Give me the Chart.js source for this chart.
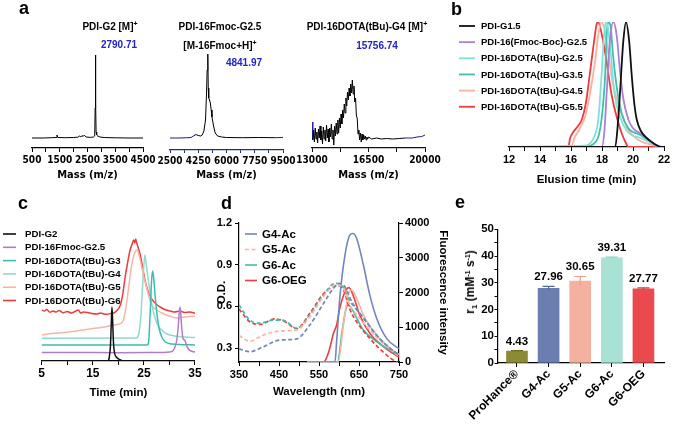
<!DOCTYPE html>
<html><head><meta charset="utf-8">
<script src="https://cdn.jsdelivr.net/npm/chart.js@4.4.1/dist/chart.umd.min.js"></script>
<style>
html,body{margin:0;padding:0;background:#fff;}
#wrap{position:relative;width:673px;height:424px;overflow:hidden;background:#fff;font-family:'Liberation Sans',Arial,sans-serif;}
canvas{position:absolute;left:0;top:0;}
.t{position:absolute;font-weight:bold;white-space:nowrap;color:#000;}
.lt{font-size:18px;line-height:18px;}
.ttl{font-size:10px;line-height:12px;text-align:center;width:200px;}
.blue{color:#2222cc;}
sup{font-size:7px;vertical-align:4px;line-height:0;}
sub{font-size:8px;vertical-align:-3px;line-height:0;}
</style></head><body>
<div id="wrap">
<canvas id="ca1" width="673" height="424"></canvas>
<canvas id="ca2" width="673" height="424"></canvas>
<canvas id="ca3" width="673" height="424"></canvas>
<canvas id="cb" width="673" height="424"></canvas>
<canvas id="cc" width="673" height="424"></canvas>
<canvas id="cd" width="673" height="424"></canvas>
<canvas id="ce" width="673" height="424"></canvas>
<div class="t lt" style="left:19px;top:-1px">a</div>
<div class="t lt" style="left:451px;top:0px">b</div>
<div class="t lt" style="left:18px;top:194px">c</div>
<div class="t lt" style="left:221px;top:194px">d</div>
<div class="t lt" style="left:455px;top:193px">e</div>
<div class="t ttl" style="left:10px;top:21px">PDI-G2 [M]<sup>+</sup></div>
<div class="t ttl blue" style="left:19px;top:39px">2790.71</div>
<div class="t ttl" style="left:120px;top:21px">PDI-16Fmoc-G2.5</div>
<div class="t ttl" style="left:120px;top:40px">[M-16Fmoc+H]<sup>+</sup></div>
<div class="t ttl blue" style="left:144px;top:57px">4841.97</div>
<div class="t ttl" style="left:267px;top:21px">PDI-16DOTA(tBu)-G4 [M]<sup>+</sup></div>
<div class="t ttl blue" style="left:277px;top:40px">15756.74</div>
<div class="t" style="left:470px;top:282px;font-size:12px;transform:translate(-50%,-50%) rotate(-90deg);">r<sub>1</sub> (mM<sup>-1</sup> s<sup>-1</sup>)</div>
</div>
<script>
// ---------------- DATA ----------------
// Panel a: MALDI mass spectra (m/z, relative intensity)
const a1Mass = [500, 900, 1200, 1370, 1400, 1430, 1700, 2000, 2150, 2220, 2260, 2300, 2340, 2380, 2450, 2600, 2720, 2760, 2775, 2785, 2790, 2795, 2800, 2810, 2830, 2870, 2950, 3100, 3500, 4000, 4500];
const a1Int  = [10, 10, 10.3, 10.5, 13, 10.5, 10.3, 10.5, 10.8, 12, 11, 12.5, 11.5, 12.8, 11, 10.6, 11, 12, 40, 93, 70, 88, 45, 16, 13, 12, 11, 10.5, 10.2, 10, 10];
const a2Mass = [2500, 3000, 3500, 3800, 3950, 4100, 4250, 4400, 4500, 4600, 4700, 4760, 4800, 4842, 4870, 4900, 4950, 5000, 5050, 5100, 5200, 5300, 5450, 5700, 6000, 7000, 8000, 9000, 9500];
const a2Int  = [12, 12, 12.2, 12.5, 14, 15.5, 14.5, 14, 15, 19, 30, 55, 80, 96, 62, 52, 50, 47, 40, 33, 24, 17, 14, 13, 12.5, 12.3, 12.5, 12.3, 12.6];
const a3Mass = [13000, 13050, 13100, 13150, 13200, 13250, 13300, 13350, 13400, 13450, 13500, 13550, 13600, 13650, 13700, 13750, 13800, 13850, 13900, 13950, 14000, 14050, 14100, 14150, 14200, 14250, 14300, 14350, 14400, 14450, 14500, 14550, 14600, 14650, 14700, 14750, 14800, 14850, 14900, 14950, 15000, 15050, 15100, 15150, 15200, 15250, 15300, 15350, 15400, 15450, 15500, 15550, 15600, 15650, 15700, 15750, 15800, 15850, 15900, 15950, 16000, 16050, 16100, 16150, 16200, 16250, 16300, 16350, 16400, 16450, 16500, 16700, 17000, 17300, 17600, 18000, 18400, 18800, 19200, 19500, 19800, 20000];
const a3Int  = [26, 8, 18, 6, 20, 9, 16, 5, 19, 10, 22, 8, 17, 4, 21, 9, 18, 7, 23, 10, 19, 6, 20, 11, 24, 9, 18, 3, 22, 12, 25, 14, 28, 15, 30, 20, 34, 24, 38, 30, 44, 35, 50, 42, 56, 48, 60, 52, 64, 55, 68, 54, 62, 46, 50, 32, 30, 14, 18, 8, 15, 6, 14, 8, 13, 9, 12, 8, 11, 9, 11, 9, 10, 9, 9.5, 9, 9.5, 10, 10, 11, 11.5, 13];

// Panel b: GPC traces (elution time in min, normalized signal in %)
const bNames = ['PDI-G1.5', 'PDI-16(Fmoc-Boc)-G2.5', 'PDI-16DOTA(tBu)-G2.5', 'PDI-16DOTA(tBu)-G3.5', 'PDI-16DOTA(tBu)-G4.5', 'PDI-16DOTA(tBu)-G5.5'];
const bT1 = [12, 18.85, 19.0, 19.16, 19.37, 19.55, 19.75, 19.92, 20.1, 20.24, 20.5, 20.9, 21.2, 21.5, 21.8, 22];
const bS1 = [0, 0, 15, 43, 84, 100, 85, 57, 33, 22, 13, 7, 4, 1.6, 0, 0];
const bT2 = [12, 17.98, 18.15, 18.3, 18.5, 18.73, 18.95, 19.16, 19.37, 19.7, 20.0, 20.45, 20.9, 21.3, 21.6, 22];
const bS2 = [0, 0, 12, 43, 84, 100, 89, 61, 39, 22, 15, 11, 7, 3, 0, 0];
const bT3 = [12, 16.8, 17.45, 17.76, 17.97, 18.13, 18.26, 18.4, 18.6, 18.8, 19.16, 19.6, 20.0, 20.3, 20.9, 21.5, 21.7, 22];
const bS3 = [0, 1, 7, 22, 57, 89, 100, 94, 70, 43, 24, 13, 9, 8, 5, 1, 0, 0];
const bT4 = [12, 16.9, 17.65, 17.97, 18.2, 18.3, 18.4, 18.55, 18.7, 18.95, 19.27, 19.7, 20.0, 20.2, 20.55, 21.0, 21.5, 21.9, 22];
const bS4 = [0, 0.5, 5, 22, 57, 89, 100, 97, 75, 48, 27, 15, 12, 11, 9, 5, 1.5, 0, 0];
const bT5 = [12, 16.0, 16.25, 16.58, 16.9, 17.2, 17.55, 17.75, 17.97, 18.15, 18.4, 18.7, 19.16, 19.6, 20.0, 20.6, 21.3, 21.7, 22];
const bS5 = [0, 0.5, 8, 15, 24, 41, 68, 89, 100, 95, 75, 51, 30, 16, 9, 4, 1.5, 0, 0];
const bT6 = [12, 15.83, 15.94, 16.15, 16.4, 16.7, 16.96, 17.2, 17.45, 17.65, 17.75, 17.97, 18.3, 18.6, 18.95, 19.27, 19.55, 19.7, 22];
const bS6 = [0, 0, 7, 12, 16, 22, 35, 57, 81, 98, 100, 91, 68, 43, 24, 11, 3, 0, 0];

// Panel c: HPLC traces (time in min, offset detector signal, a.u.)
const cNames = ['PDI-G2', 'PDI-16Fmoc-G2.5', 'PDI-16DOTA(tBu)-G3', 'PDI-16DOTA(tBu)-G4', 'PDI-16DOTA(tBu)-G5', 'PDI-16DOTA(tBu)-G6'];
const cT1 = [5, 17.9, 18.2, 18.45, 18.6, 18.75, 18.9, 19.05, 19.25, 19.6, 20.2, 21, 35];
const cS1 = [0, 0, 3, 15, 35, 54, 38, 18, 8, 4, 1.5, 0, 0];
const cT2 = [5, 10, 20, 28, 30.5, 31.0, 31.4, 31.7, 31.9, 32.1, 32.3, 32.5, 32.7, 33.0, 33.3, 33.7, 34.2, 35];
const cS2 = [8.5, 8.5, 8.3, 8.5, 9.5, 13, 20, 33, 48, 54, 40, 28, 22, 21, 16, 12, 10, 9];
const cT3 = [5, 25.6, 25.9, 26.2, 26.5, 26.7, 26.9, 27.2, 27.6, 28.0, 28.5, 29.2, 30.5, 35];
const cS3 = [16, 16, 18, 45, 80, 90, 84, 65, 45, 32, 24, 19, 17, 16];
const cT4 = [5, 23.5, 24.0, 24.4, 24.8, 25.2, 25.5, 25.9, 26.3, 26.7, 27.2, 27.7, 28.5, 29.5, 31, 35];
const cS4 = [22.7, 23, 27, 45, 80, 106, 95, 80, 65, 53, 43, 36, 31, 27, 25, 23.5];
const cT5 = [5, 7, 9.9, 13, 15, 17.6, 19, 20.5, 21.0, 21.3, 21.8, 22.3, 22.6, 23.0, 23.4, 23.7, 24.1, 24.5, 24.9, 25.4, 25.9, 26.3, 26.8, 27.5, 28.5, 30, 31.4, 33, 35];
const cS5 = [26, 27.5, 28.7, 31, 32.5, 34.3, 36, 37.7, 41, 48, 65, 85, 96, 105, 110, 111, 105, 96, 86, 76, 66, 59, 54, 51, 48, 45, 43, 44, 45];
const cT6 = [5, 5.5, 6, 6.6, 7.2, 7.8, 8.4, 9.2, 10, 10.8, 11.5, 12.2, 12.6, 13.2, 14, 14.8, 15.8, 16.5, 17.2, 17.8, 18.5, 19.1, 19.8, 20.4, 20.9, 21.3, 21.8, 22.3, 22.7, 23.0, 23.2, 23.4, 23.6, 23.9, 24.3, 24.8, 25.3, 25.8, 26.3, 27.0, 27.6, 28.5, 29.3, 30.2, 31, 32, 33, 34, 35];
const cS6 = [51, 50, 51.5, 48.7, 50, 49, 50.5, 48.3, 49.5, 48, 49.5, 51, 48, 49, 48.5, 47.5, 47, 48, 47, 46.7, 47.5, 48, 51, 56, 68, 83, 98, 111, 117, 121, 118, 122, 118, 113, 106, 92, 79, 70, 64, 59, 56, 53, 51, 50, 49, 50, 48.5, 49, 47.7];

// Panel d: absorbance (O.D., dashed) and fluorescence (solid)
const dNames = ['G4-Ac', 'G5-Ac', 'G6-Ac', 'G6-OEG'];
const dAbsW1 = [350, 377, 411, 452, 494, 527, 561, 586, 602, 615, 632, 661, 694, 727, 750];
const dAbs1  = [0.295, 0.274, 0.31, 0.358, 0.366, 0.466, 0.62, 0.73, 0.766, 0.74, 0.634, 0.515, 0.394, 0.30, 0.25];
const dAbsW2 = [350, 377, 411, 452, 494, 527, 561, 594, 611, 627, 650, 700, 750];
const dAbs2  = [0.39, 0.35, 0.394, 0.423, 0.43, 0.526, 0.67, 0.754, 0.73, 0.61, 0.52, 0.36, 0.24];
const dAbsW3 = [350, 377, 402, 436, 461, 494, 527, 561, 590, 606, 627, 661, 694, 727, 750];
const dAbs3  = [0.61, 0.502, 0.479, 0.502, 0.50, 0.443, 0.538, 0.68, 0.766, 0.754, 0.64, 0.52, 0.39, 0.30, 0.25];
const dAbsW4 = [350, 377, 402, 440, 465, 494, 527, 561, 594, 611, 627, 644, 677, 711, 744, 750];
const dAbs4  = [0.58, 0.49, 0.47, 0.51, 0.49, 0.44, 0.55, 0.69, 0.75, 0.72, 0.58, 0.49, 0.37, 0.27, 0.20, 0.195];
const dFlW1 = [520, 590, 594, 602, 615, 627, 635, 644, 661, 677, 694, 719, 750];
const dFl1  = [0, 0, 585, 1840, 3080, 3650, 3700, 3560, 2790, 1930, 1260, 680, 380];
const dFlW2 = [520, 598, 611, 623, 631, 644, 661, 694, 727, 750];
const dFl2  = [0, 0, 1065, 1930, 2070, 1840, 1350, 780, 400, 220];
const dFlW3 = [520, 596, 608, 616, 623, 631, 644, 661, 694, 727, 750];
const dFl3  = [0, 0, 900, 1450, 1640, 1550, 1270, 920, 585, 345, 210];
const dFlW4 = [520, 562, 570, 577, 586, 594, 602, 615, 625, 635, 652, 677, 711, 750];
const dFl4  = [0, 0, 150, 395, 820, 1065, 1550, 2020, 2140, 1930, 1350, 825, 440, 140];

// Panel e: relaxivity r1 (mM-1 s-1)
const eCats = ['ProHance\u00AE', 'G4-Ac', 'G5-Ac', 'G6-Ac', 'G6-OEG'];
const eVals = [4.43, 27.96, 30.65, 39.31, 27.77];
const eErr  = [0.2, 0.7, 1.7, 0.25, 0.35];

// ---------------- STYLE ----------------
const FAM = "'Liberation Sans', Arial, sans-serif";
const NARROW = "'Liberation Sans Narrow', 'DejaVu Sans Condensed', 'Liberation Sans', Arial, sans-serif";
Chart.defaults.font.family = FAM;
Chart.defaults.font.weight = 'bold';
Chart.defaults.font.size = 11;
Chart.defaults.color = '#000';
Chart.defaults.animation = false;
Chart.defaults.plugins.legend.display = false;
Chart.defaults.plugins.tooltip.enabled = false;
Chart.defaults.elements.point.radius = 0;

const bColors = ['#111111', '#ab7fd3', '#7fe2d8', '#3fbfae', '#f9b3a0', '#ef3b3b'];
const cColors = ['#111111', '#b17dc8', '#3cbcad', '#8fdacf', '#f9b5a5', '#ee3c3c'];
const dColors = ['#7186bd', '#f9b4a2', '#3dbdae', '#ef3e3e'];
const eColors = ['#8c8a36', '#6a7eb0', '#f4b1a0', '#a8e2d4', '#ea4a4d'];
const eErrColors = ['#6f6d22', '#55689a', '#eea08c', '#8fd3c2', '#d83a3d'];

const pts = (xs, ys) => xs.map((x, i) => ({x: x, y: ys[i]}));
function line(label, xs, ys, color, w, extra) {
  return Object.assign({label: label, data: pts(xs, ys), borderColor: color, backgroundColor: color,
    borderWidth: w, pointRadius: 0, fill: false, cubicInterpolationMode: 'monotone'}, extra || {});
}
function hAxis(o) {
  return {
    type: 'linear', position: 'bottom', min: o.min, max: o.max, offset: false,
    ticks: {stepSize: o.step, autoSkip: false, maxRotation: o.rot || 0, minRotation: o.rot || 0,
      padding: o.pad, font: o.font, callback: o.cb, color: '#000', includeBounds: true},
    grid: {display: true, drawOnChartArea: false, drawTicks: true, tickLength: o.tl, color: o.color || '#000', lineWidth: 1, offset: false},
    border: {display: true, color: o.color || '#000', width: 1.2},
    title: {display: !!o.title, text: o.title, font: o.tfont, padding: 0, color: '#000'},
    afterFit: s => { s.height = o.H; }
  };
}
const hidden = (min, max) => ({type: 'linear', display: false, min: min, max: max});

const legendPlugin = {
  id: 'customLegend',
  afterDraw(chart, args, o) {
    if (!o || !o.items) return;
    const ctx = chart.ctx;
    ctx.save();
    ctx.font = 'bold ' + o.size + 'px ' + FAM;
    ctx.textBaseline = 'middle';
    ctx.textAlign = 'left';
    o.items.forEach((di, k) => {
      const ds = chart.data.datasets[di];
      const y = o.y0 + k * o.dy;
      ctx.strokeStyle = ds.borderColor;
      ctx.lineWidth = o.lw;
      ctx.setLineDash(ds.borderDash || []);
      ctx.beginPath(); ctx.moveTo(o.x0, y); ctx.lineTo(o.x1, y); ctx.stroke();
      ctx.setLineDash([]);
      ctx.fillStyle = '#000';
      ctx.fillText(ds.label, o.tx, y + 0.5);
    });
    ctx.restore();
  }
};

// ---------------- PANEL a ----------------
const aTickFont = {family: NARROW, size: 10, weight: 'bold'};
const aTitleFont = {family: NARROW, size: 11, weight: 'bold'};
function specChart(id, xs, ys, pad, xo, segFn) {
  return new Chart(document.getElementById(id), {
    type: 'line',
    data: {datasets: [line('spec', xs, ys, '#000', 1, {cubicInterpolationMode: 'default', tension: 0,
      segment: segFn ? {borderColor: segFn} : undefined})]},
    options: {responsive: false, devicePixelRatio: 1, layout: {padding: pad},
      scales: {x: hAxis(xo), y: hidden(0, 100)}}
  });
}
specChart('ca1', a1Mass, a1Int, {left: 32, right: 530, top: 48, bottom: 242.4},
  {min: 500, max: 4500, step: 500, tl: 4, pad: 2.5, H: 33.6, font: aTickFont, tfont: aTitleFont, title: 'Mass (m/z)',
   cb: v => ((v - 500) % 1000 === 0 ? String(v) : '')});
specChart('ca2', a2Mass, a2Int, {left: 170, right: 390, top: 50, bottom: 242.4},
  {min: 2500, max: 9500, step: 875, tl: 3, pad: 2, H: 31.6, font: aTickFont, tfont: aTitleFont, title: 'Mass (m/z)', color: '#23288a',
   cb: v => (Math.round((v - 2500) / 875) % 2 === 0 ? String(Math.round(v)) : '')},
  c => (c.p0.parsed.x < 3900 || c.p0.parsed.x > 8800 ? '#1d1f7a' : '#000'));
specChart('ca3', a3Mass, a3Int, {left: 312, right: 248, top: 48, bottom: 242.4},
  {min: 13000, max: 20000, step: 1750, tl: 4, pad: 2.5, H: 33.6, font: aTickFont, tfont: aTitleFont, title: 'Mass (m/z)', color: '#111',
   cb: v => ([13000, 16500, 20000].indexOf(Math.round(v)) >= 0 ? String(Math.round(v)) : '')},
  c => (c.p0.parsed.x < 13040 || c.p0.parsed.x > 18500 ? '#1d1f9a' : '#000'));

// ---------------- PANEL b ----------------
const bT = [bT1, bT2, bT3, bT4, bT5, bT6];
const bS = [bS1, bS2, bS3, bS4, bS5, bS6];
new Chart(document.getElementById('cb'), {
  type: 'line',
  data: {datasets: bNames.map((n, i) => line(n, bT[i], bS[i], bColors[i], 1.8))},
  options: {responsive: false, devicePixelRatio: 1,
    layout: {padding: {left: 509, right: 9, top: 22, bottom: 237.1}},
    scales: {
      x: hAxis({min: 12, max: 22, step: 1, tl: 4, pad: 2.4, H: 39.9, font: {size: 11, weight: 'bold'},
        tfont: {size: 11.5, weight: 'bold'}, title: 'Elusion time (min)', cb: v => (v % 2 === 0 ? String(v) : '')}),
      y: hidden(0, 100)},
    plugins: {customLegend: {items: [0, 1, 2, 3, 4, 5], x0: 459, x1: 475, tx: 481, y0: 26, dy: 16.15, size: 9.5, lw: 1.8}}
  },
  plugins: [legendPlugin]
});

// ---------------- PANEL c ----------------
const cT = [cT1, cT2, cT3, cT4, cT5, cT6];
const cS = [cS1, cS2, cS3, cS4, cS5, cS6];
new Chart(document.getElementById('cc'), {
  type: 'line',
  data: {datasets: cNames.map((n, i) => line(n, cT[i], cS[i], cColors[i], 1.5))},
  options: {responsive: false, devicePixelRatio: 1,
    layout: {padding: {left: 41.7, right: 478, top: 230, bottom: 24.1}},
    scales: {
      x: hAxis({min: 5, max: 35, step: 5, tl: 4, pad: 1.8, H: 38.9, font: {size: 12, weight: 'bold'},
        tfont: {size: 11.5, weight: 'bold'}, title: 'Time (min)', cb: v => ((v - 5) % 10 === 0 ? String(v) : '')}),
      y: hidden(0, 131)},
    plugins: {customLegend: {items: [0, 1, 2, 3, 4, 5], x0: 3, x1: 16, tx: 25, y0: 234, dy: 13.3, size: 9.7, lw: 1.6}}
  },
  plugins: [legendPlugin]
});

// ---------------- PANEL d ----------------
const dash = [4, 2.5];
const dAbsW = [dAbsW1, dAbsW2, dAbsW3, dAbsW4];
const dAbs = [dAbs1, dAbs2, dAbs3, dAbs4];
const dFlW = [dFlW1, dFlW2, dFlW3, dFlW4];
const dFl = [dFl1, dFl2, dFl3, dFl4];
const dSets = [];
dNames.forEach((n, i) => dSets.push(line(n, dAbsW[i], dAbs[i], dColors[i], 1.7, {borderDash: dash, yAxisID: 'y'})));
dNames.forEach((n, i) => dSets.push(line(n, dFlW[i], dFl[i], dColors[i], 1.6, {yAxisID: 'y2'})));
new Chart(document.getElementById('cd'), {
  type: 'line',
  data: {datasets: dSets},
  options: {responsive: false, devicePixelRatio: 1,
    layout: {padding: {left: 215.4, right: 223.4, top: 223, bottom: 25.1}},
    scales: {
      x: hAxis({min: 350, max: 750, step: 50, tl: 4, pad: 2.4, H: 36.9, font: {size: 11, weight: 'bold'},
        tfont: {size: 11.5, weight: 'bold'}, title: 'Wavelength (nm)', cb: v => ((v - 350) % 100 === 0 ? String(v) : '')}),
      y: {type: 'linear', position: 'left', min: 0.2, max: 1.2,
        afterBuildTicks: s => { s.ticks = [0.3, 0.6, 0.9, 1.2].map(v => ({value: v})); },
        ticks: {font: {size: 11, weight: 'bold'}, padding: 3, callback: v => Number(v).toFixed(1), autoSkip: false},
        grid: {display: true, drawOnChartArea: false, drawTicks: true, tickLength: 4, color: '#000'},
        border: {display: true, color: '#000', width: 1.2},
        title: {display: true, text: 'O.D.', font: {size: 11.5, weight: 'bold'}, padding: 0},
        afterFit: s => { s.width = 23.6; }},
      y2: {type: 'linear', position: 'right', min: 0, max: 4000,
        ticks: {stepSize: 1000, font: {size: 11, weight: 'bold'}, padding: 2, callback: v => String(v), autoSkip: false},
        grid: {display: true, drawOnChartArea: false, drawTicks: true, tickLength: 4, color: '#000'},
        border: {display: true, color: '#000', width: 1.2},
        title: {display: true, text: 'Fluorescence intensity', font: {size: 11.5, weight: 'bold'}, padding: 0},
        afterFit: s => { s.width = 50.6; }}
    },
    plugins: {customLegend: {items: [4, 1, 6, 7], x0: 245, x1: 257, tx: 262, y0: 234, dy: 15.5, size: 11.5, lw: 1.6}}
  },
  plugins: [legendPlugin]
});

// ---------------- PANEL e ----------------
const barExtras = {
  id: 'barExtras',
  afterDatasetsDraw(chart) {
    const ctx = chart.ctx, xs = chart.scales.x, ys = chart.scales.y;
    ctx.save();
    eVals.forEach((v, i) => {
      const px = xs.getPixelForValue(i);
      const top = ys.getPixelForValue(v + eErr[i]);
      const base = ys.getPixelForValue(v - eErr[i]);
      ctx.strokeStyle = eErrColors[i];
      ctx.lineWidth = 1.2;
      ctx.beginPath();
      ctx.moveTo(px, base); ctx.lineTo(px, top);
      ctx.moveTo(px - 6, top); ctx.lineTo(px + 6, top);
      ctx.stroke();
      ctx.fillStyle = '#000';
      ctx.font = 'bold 11.5px ' + FAM;
      ctx.textAlign = 'center';
      ctx.textBaseline = 'alphabetic';
      ctx.fillText(v.toFixed(2), px, top - 6);
    });
    ctx.restore();
  }
};
new Chart(document.getElementById('ce'), {
  type: 'bar',
  data: {datasets: [{label: 'r1', data: eVals.map((v, i) => ({x: i, y: v})), backgroundColor: eColors,
    borderColor: eErrColors, borderWidth: 0, barThickness: 21}]},
  options: {responsive: false, devicePixelRatio: 1,
    layout: {padding: {left: 458, right: 9, top: 229.3, bottom: 1}},
    scales: {
      x: Object.assign(hAxis({min: -0.6, max: 4.65, step: 1, tl: 4, pad: 0, H: 60, rot: 45,
        font: {size: 12, weight: 'bold'}, cb: v => eCats[Math.round(v)]}),
        {afterBuildTicks: s => { s.ticks = eCats.map((c, i) => ({value: i})); }}),
      y: {type: 'linear', position: 'left', min: 0, max: 50,
        ticks: {stepSize: 5, font: {size: 11.5, weight: 'bold'}, padding: 0.5, autoSkip: false,
          callback: v => (v % 10 === 0 ? String(v) : '')},
        grid: {display: true, drawOnChartArea: false, drawTicks: true, tickLength: 3.5, color: '#000'},
        border: {display: true, color: '#000', width: 1.2},
        afterFit: s => { s.width = 40; }}
    }
  },
  plugins: [barExtras]
});
</script>
</body></html>
